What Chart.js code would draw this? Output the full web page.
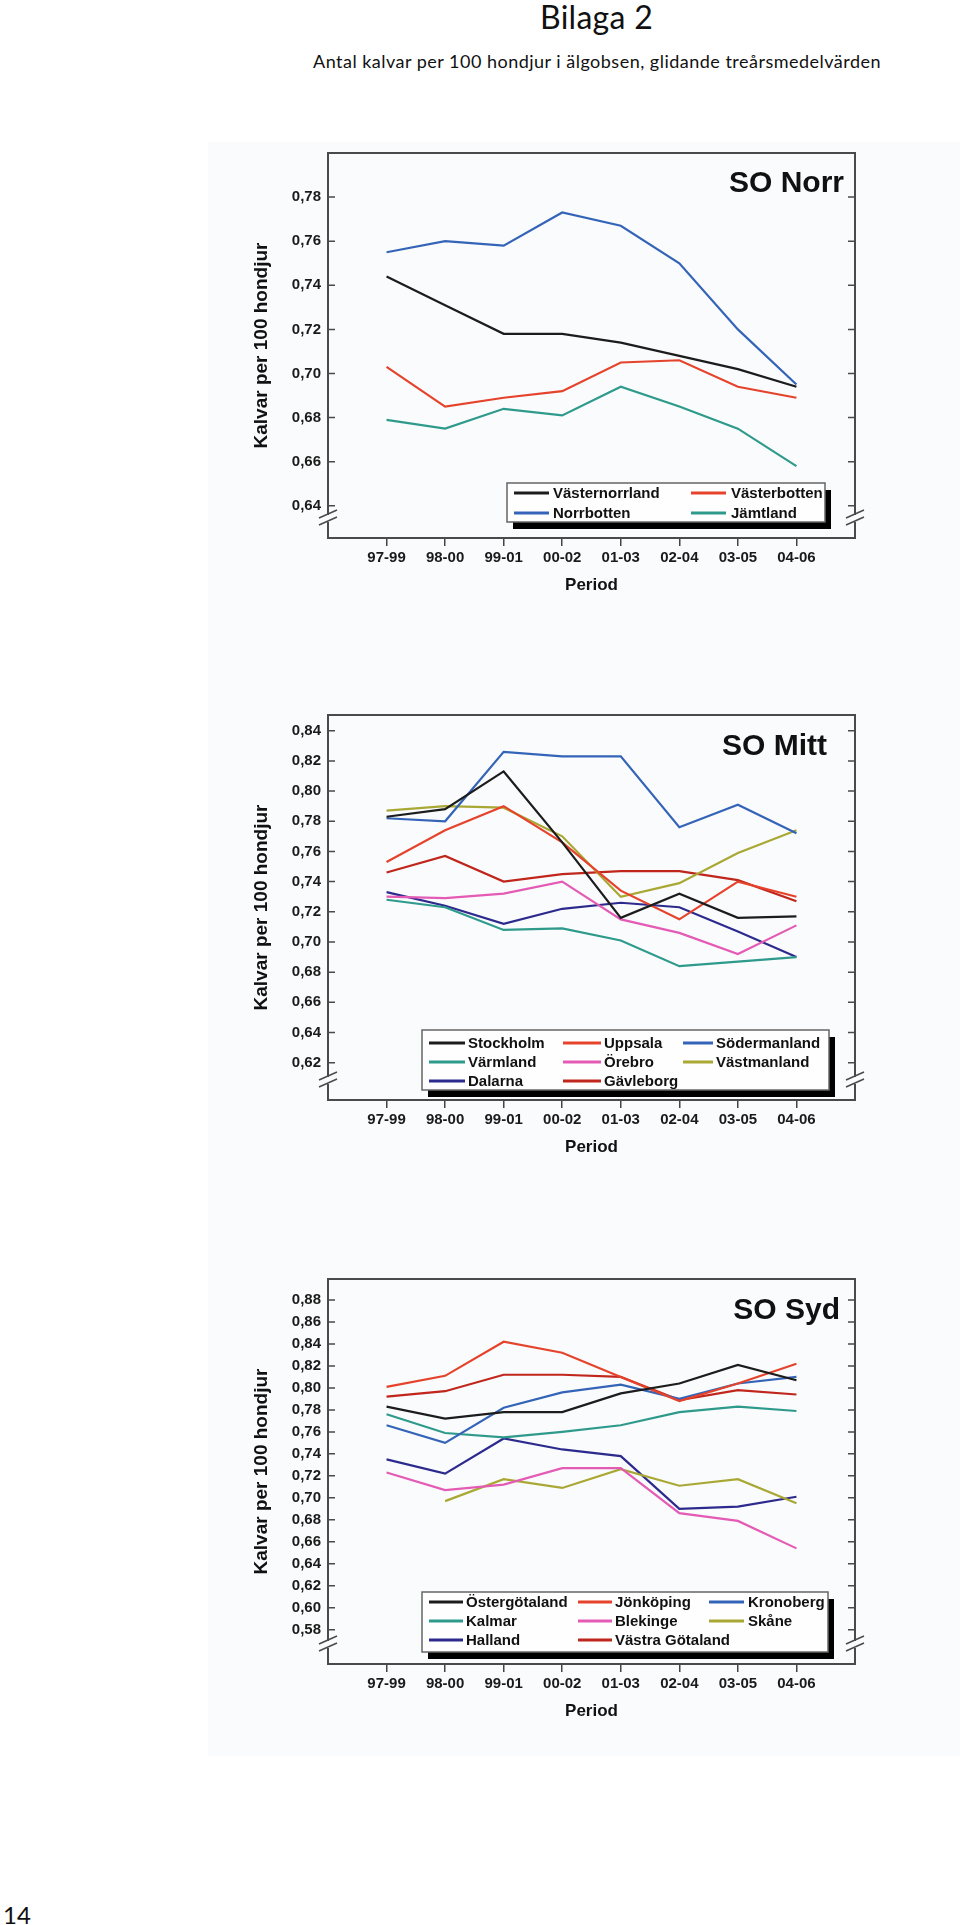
<!DOCTYPE html>
<html>
<head>
<meta charset="utf-8">
<script src="https://cdn.jsdelivr.net/npm/chart.js@4.4.1/dist/chart.umd.min.js"></script>
<style>
html,body{margin:0;padding:0;background:#fff;}
body{width:960px;height:1925px;position:relative;overflow:hidden;}
#scan{position:absolute;left:208px;top:142px;width:752px;height:1614px;background:#fafbfc;}
canvas{position:absolute;}
.txt{position:absolute;font-family:Lato,"Open Sans",sans-serif;color:#111;white-space:nowrap;}
#h1{left:540px;top:1px;font-size:32px;line-height:32px;}
#h2{left:313px;top:52px;font-size:18px;line-height:18px;}
#pg{left:3px;top:1903px;font-size:24px;line-height:24px;}
</style>
</head>
<body>
<div id="scan"></div>
<div class="txt" id="h1">Bilaga 2</div>
<div class="txt" id="h2">Antal kalvar per 100 hondjur i älgobsen, glidande treårsmedelvärden</div>
<div class="txt" id="pg">14</div>
<canvas id="norr" width="660" height="456" style="left:230px;top:140px;width:660px;height:456px"></canvas>
<canvas id="mitt" width="660" height="456" style="left:230px;top:702px;width:660px;height:456px"></canvas>
<canvas id="syd" width="660" height="456" style="left:230px;top:1266px;width:660px;height:456px"></canvas>
<script>
// ---------- DATA ----------
const periods = ['97-99','98-00','99-01','00-02','01-03','02-04','03-05','04-06'];

// SO Norr
const norrTicks = [0.64,0.66,0.68,0.70,0.72,0.74,0.76,0.78];
const vasternorrland = [0.744,0.731,0.718,0.718,0.714,0.708,0.702,0.694];
const vasterbotten   = [0.703,0.685,0.689,0.692,0.705,0.706,0.694,0.689];
const norrbotten     = [0.755,0.760,0.758,0.773,0.767,0.750,0.720,0.695];
const jamtland       = [0.679,0.675,0.684,0.681,0.694,0.685,0.675,0.658];

// SO Mitt
const mittTicks = [0.62,0.64,0.66,0.68,0.70,0.72,0.74,0.76,0.78,0.80,0.82,0.84];
const stockholm    = [0.783,0.788,0.813,0.766,0.716,0.732,0.716,0.717];
const uppsala      = [0.753,0.774,0.790,0.766,0.734,0.715,0.740,0.730];
const sodermanland = [0.782,0.780,0.826,0.823,0.823,0.776,0.791,0.772];
const varmland     = [0.728,0.723,0.708,0.709,0.701,0.684,0.687,0.690];
const orebro       = [0.730,0.729,0.732,0.740,0.715,0.706,0.692,0.711];
const vastmanland  = [0.787,0.790,0.789,0.770,0.730,0.739,0.759,0.774];
const dalarna      = [0.733,0.724,0.712,0.722,0.726,0.723,0.707,0.690];
const gavleborg    = [0.746,0.757,0.740,0.745,0.747,0.747,0.741,0.727];

// SO Syd
const sydTicks = [0.58,0.60,0.62,0.64,0.66,0.68,0.70,0.72,0.74,0.76,0.78,0.80,0.82,0.84,0.86,0.88];
const ostergotland   = [0.783,0.772,0.778,0.778,0.795,0.804,0.821,0.807];
const jonkoping      = [0.801,0.811,0.842,0.832,0.810,0.788,0.804,0.822];
const kronoberg      = [0.766,0.750,0.782,0.796,0.803,0.790,0.804,0.810];
const kalmar         = [0.776,0.759,0.755,0.760,0.766,0.778,0.783,0.779];
const blekinge       = [0.723,0.707,0.712,0.727,0.727,0.686,0.679,0.654];
const skane          = [null,0.697,0.717,0.709,0.726,0.711,0.717,0.695];
const halland        = [0.735,0.722,0.754,0.744,0.738,0.690,0.692,0.701];
const vastraGotaland = [0.792,0.797,0.812,0.812,0.810,0.789,0.798,0.794];

// ---------- STYLE ----------
const C = {
  black:'#1c1c1c', red:'#e5432b', blue:'#3464b8', teal:'#2e9a8c',
  pink:'#e45bb5', olive:'#a9a834', navy:'#2d2a8e', darkred:'#c0261b'
};
const BG = '#fafbfc';
const FONT = '"Liberation Sans", Arial, Helvetica, sans-serif';
Chart.defaults.font.family = FONT;

const framePlugin = {
  id: 'soFrame',
  afterDatasetsDraw(chart, args, o) {
    const {ctx, chartArea: a, scales: {y}} = chart;
    const L = a.left, R = a.right, T = a.top, B = a.bottom;
    const ox = o.canvasLeft, oy = o.canvasTop;
    ctx.save();
    // frame
    ctx.strokeStyle = '#4a4a4a';
    ctx.lineWidth = 2;
    ctx.beginPath();
    ctx.moveTo(L, B); ctx.lineTo(L, T); ctx.lineTo(R, T); ctx.lineTo(R, B); ctx.closePath();
    ctx.stroke();
    // inward y ticks
    ctx.lineWidth = 1.5;
    y.ticks.forEach(t => {
      const py = y.getPixelForValue(t.value);
      ctx.beginPath();
      ctx.moveTo(L, py); ctx.lineTo(L + 7, py);
      ctx.moveTo(R, py); ctx.lineTo(R - 7, py);
      ctx.stroke();
    });
    // axis break marks
    const yb = B - 18;
    [L, R].forEach(x => {
      ctx.fillStyle = BG;
      ctx.fillRect(x - 2, yb - 5, 4, 7);
      ctx.beginPath();
      ctx.moveTo(x - 9, yb - 2); ctx.lineTo(x + 9, yb - 10);
      ctx.moveTo(x - 9, yb + 5); ctx.lineTo(x + 9, yb - 3);
      ctx.stroke();
    });
    // panel title
    ctx.fillStyle = '#111';
    ctx.font = 'bold 30px ' + FONT;
    ctx.textAlign = 'right';
    ctx.textBaseline = 'alphabetic';
    ctx.fillText(o.title, o.titleX - ox, o.titleY - oy);
    // legend
    const lg = o.legend;
    const [x0, y0, x1, y1] = lg.box;
    ctx.fillStyle = '#000';
    ctx.fillRect(x0 - ox + 6, y0 - oy + 7, x1 - x0, y1 - y0);
    ctx.fillStyle = '#fefefe';
    ctx.fillRect(x0 - ox, y0 - oy, x1 - x0, y1 - y0);
    ctx.strokeStyle = '#666';
    ctx.lineWidth = 1.5;
    ctx.strokeRect(x0 - ox, y0 - oy, x1 - x0, y1 - y0);
    ctx.font = 'bold 15px ' + FONT;
    ctx.textAlign = 'left';
    ctx.textBaseline = 'middle';
    chart.data.datasets.forEach((ds, i) => {
      const col = lg.cols[i % lg.cols.length];
      const ry = lg.rows[Math.floor(i / lg.cols.length)] - oy;
      ctx.strokeStyle = ds.borderColor;
      ctx.lineWidth = 3;
      ctx.beginPath();
      ctx.moveTo(col[0] - ox, ry); ctx.lineTo(col[1] - ox, ry);
      ctx.stroke();
      ctx.fillStyle = '#111';
      ctx.fillText(ds.label, col[2] - ox, ry + 1);
    });
    ctx.restore();
  }
};

function makeChart(id, cfg) {
  const canvas = document.getElementById(id);
  const datasets = cfg.series.map(s => ({
    label: s.name,
    data: s.values.map((v, i) => ({x: i + 1, y: v})),
    borderColor: s.color,
    backgroundColor: s.color,
    borderWidth: 2.2,
    pointRadius: 0,
    tension: 0,
    fill: false
  }));
  return new Chart(canvas, {
    type: 'line',
    data: {datasets},
    options: {
      responsive: false,
      animation: false,
      events: [],
      layout: {padding: {top: 13, right: 35, bottom: 0, left: 0}},
      plugins: {
        legend: {display: false},
        tooltip: {enabled: false},
        soFrame: Object.assign({canvasLeft: 230, canvasTop: cfg.top}, cfg.frame)
      },
      scales: {
        x: {
          type: 'linear', min: 0, max: periods.length + 1,
          afterBuildTicks: s => { s.ticks = periods.map((p, i) => ({value: i + 1})); },
          ticks: {
            callback: v => periods[Math.round(v) - 1],
            font: {size: 15, weight: 'bold'}, color: '#1a1a1a',
            padding: 3, maxRotation: 0, autoSkip: false
          },
          grid: {display: true, drawOnChartArea: false, drawTicks: true, tickLength: 8, color: '#444', lineWidth: 1.5},
          border: {display: false},
          title: {display: true, text: 'Period', font: {size: 17, weight: 'bold'}, color: '#111', padding: {top: 0, bottom: 0}},
          afterFit: s => { s.height = 58; s.paddingLeft = 0; s.paddingRight = 0; }
        },
        y: {
          type: 'linear', min: cfg.min, max: cfg.max,
          afterBuildTicks: s => { s.ticks = cfg.ticks.map(v => ({value: v})); },
          ticks: {
            callback: v => Number(v).toFixed(2).replace('.', ','),
            font: {size: 15, weight: 'bold'}, color: '#1a1a1a', padding: 7, autoSkip: false
          },
          grid: {display: false, drawTicks: false},
          border: {display: false},
          title: {display: true, text: 'Kalvar per 100 hondjur', font: {size: 19, weight: 'bold'}, color: '#111', padding: {top: 20, bottom: 0}},
          afterFit: s => { s.width = 98; s.paddingTop = 0; s.paddingBottom = 0; }
        }
      }
    },
    plugins: [framePlugin]
  });
}

makeChart('norr', {
  top: 140, min: 0.6254, max: 0.8000, ticks: norrTicks,
  series: [
    {name: 'Västernorrland', values: vasternorrland, color: C.black},
    {name: 'Västerbotten', values: vasterbotten, color: C.red},
    {name: 'Norrbotten', values: norrbotten, color: C.blue},
    {name: 'Jämtland', values: jamtland, color: C.teal}
  ],
  frame: {
    title: 'SO Norr', titleX: 844, titleY: 192,
    legend: {box: [507, 483, 825, 522], cols: [[514, 549, 553], [691, 726, 731]], rows: [493, 513]}
  }
});

makeChart('mitt', {
  top: 702, min: 0.5953, max: 0.8504, ticks: mittTicks,
  series: [
    {name: 'Stockholm', values: stockholm, color: C.black},
    {name: 'Uppsala', values: uppsala, color: C.red},
    {name: 'Södermanland', values: sodermanland, color: C.blue},
    {name: 'Värmland', values: varmland, color: C.teal},
    {name: 'Örebro', values: orebro, color: C.pink},
    {name: 'Västmanland', values: vastmanland, color: C.olive},
    {name: 'Dalarna', values: dalarna, color: C.navy},
    {name: 'Gävleborg', values: gavleborg, color: C.darkred}
  ],
  frame: {
    title: 'SO Mitt', titleX: 827, titleY: 755,
    legend: {box: [422, 1030, 829, 1090], cols: [[429, 465, 468], [563, 601, 604], [683, 713, 716]], rows: [1043, 1062, 1081]}
  }
});

makeChart('syd', {
  top: 1266, min: 0.5488, max: 0.8991, ticks: sydTicks,
  series: [
    {name: 'Östergötaland', values: ostergotland, color: C.black},
    {name: 'Jönköping', values: jonkoping, color: C.red},
    {name: 'Kronoberg', values: kronoberg, color: C.blue},
    {name: 'Kalmar', values: kalmar, color: C.teal},
    {name: 'Blekinge', values: blekinge, color: C.pink},
    {name: 'Skåne', values: skane, color: C.olive},
    {name: 'Halland', values: halland, color: C.navy},
    {name: 'Västra Götaland', values: vastraGotaland, color: C.darkred}
  ],
  frame: {
    title: 'SO Syd', titleX: 840, titleY: 1319,
    legend: {box: [422, 1592, 828, 1652], cols: [[429, 463, 466], [578, 612, 615], [709, 744, 748]], rows: [1602, 1621, 1640]}
  }
});

// fit header text widths to the reference
function fitWidth(id, target) {
  const el = document.getElementById(id);
  const w = el.getBoundingClientRect().width;
  const n = el.textContent.length;
  el.style.letterSpacing = ((target - w) / n) + 'px';
}
fitWidth('h1', 113);
fitWidth('h2', 568);
</script>
</body>
</html>
